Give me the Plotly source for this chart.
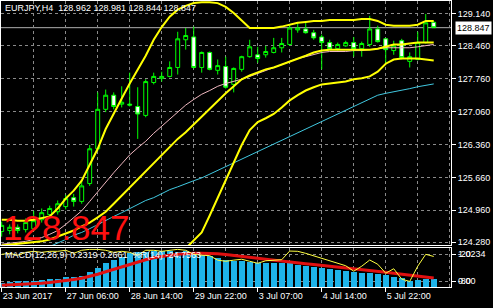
import plotly.graph_objects as go

W, H = 493, 308

# ---------------- data ----------------
bars = list(range(55))
opens = [124.51,124.53,124.60,124.55,124.57,124.76,124.87,124.93,125.04,125.23,
         125.15,125.53,126.27,127.11,127.41,127.22,127.22,127.17,126.98,127.68,
         127.77,127.81,128.00,128.59,128.65,128.00,128.32,127.94,128.02,127.64,
         127.96,128.23,128.27,128.27,128.32,128.42,128.49,128.80,128.82,128.74,
         128.65,128.53,128.40,128.46,128.53,128.40,128.49,128.82,128.61,128.36,
         128.57,128.13,128.17,128.53,128.962]
highs = [124.72,124.66,124.66,124.79,124.95,125.00,125.06,125.17,125.29,125.31,
         125.59,126.35,127.47,127.53,127.47,127.60,127.89,127.58,127.75,127.89,
         127.91,128.13,128.76,128.84,128.87,128.34,128.34,128.17,128.23,128.00,
         128.25,128.59,128.44,128.46,128.63,128.63,128.91,128.95,128.95,128.80,
         128.70,128.59,128.53,128.57,128.65,128.55,129.10,128.89,128.63,128.57,
         128.61,128.32,128.76,129.14,128.981]
lows = [124.40,124.45,124.47,124.49,124.51,124.70,124.81,124.87,124.98,125.04,
        125.10,125.48,126.22,127.05,127.11,127.15,127.17,126.48,126.94,127.64,
        127.70,127.79,127.85,128.38,127.98,127.89,127.94,127.85,127.55,127.47,
        127.91,128.21,128.10,128.21,128.30,128.32,128.46,128.74,128.72,128.59,
        127.96,128.38,128.36,128.44,128.23,128.23,128.44,128.53,128.06,128.27,
        128.17,128.00,128.15,128.51,128.844]
closes = [124.64,124.60,124.53,124.70,124.74,124.91,125.00,125.10,125.21,125.15,
          125.48,126.27,127.11,127.41,127.17,127.26,127.20,127.01,127.70,127.81,
          127.81,128.00,128.61,128.68,128.00,128.32,127.96,128.04,127.58,127.98,
          128.23,128.44,128.19,128.34,128.42,128.51,128.84,128.84,128.74,128.63,
          128.53,128.40,128.49,128.53,128.40,128.51,128.82,128.55,128.38,128.46,
          128.21,128.23,128.53,128.95,128.847]

bb_upper = [124.76,124.76,124.74,124.74,124.76,124.79,124.83,125.00,125.21,125.38,
            125.59,125.93,126.27,126.69,127.03,127.34,127.66,127.96,128.25,128.59,
            128.86,129.08,129.23,129.31,129.37,129.39,129.39,129.37,129.29,129.16,
            128.99,128.84,128.84,128.84,128.84,128.87,128.91,128.95,128.97,128.99,
            128.99,129.01,129.01,129.01,129.01,129.03,129.03,128.99,128.91,128.89,
            128.89,128.89,128.91,128.99,128.99]
bb_middle = [124.21,124.23,124.24,124.26,124.28,124.30,124.34,124.40,124.47,124.53,
             124.62,124.70,124.81,124.93,125.10,125.27,125.44,125.61,125.78,125.95,
             126.12,126.31,126.48,126.62,126.79,126.96,127.13,127.30,127.45,127.60,
             127.75,127.83,127.89,127.96,128.00,128.06,128.13,128.19,128.25,128.32,
             128.36,128.38,128.38,128.38,128.38,128.38,128.38,128.40,128.44,128.49,
             128.49,128.51,128.53,128.53,128.53]
bb_lower = [123.66,123.66,123.69,123.69,123.73,123.81,123.86,123.81,123.73,123.69,
            123.64,123.47,123.35,123.18,123.18,123.20,123.22,123.31,123.39,123.31,
            123.39,123.81,123.98,124.17,124.32,124.49,124.85,125.23,125.61,125.99,
            126.35,126.67,126.84,126.92,127.01,127.15,127.30,127.41,127.51,127.58,
            127.64,127.66,127.68,127.70,127.75,127.77,127.81,127.91,128.08,128.17,
            128.19,128.19,128.19,128.17,128.15]
ma_pink = [124.24,124.26,124.28,124.30,124.34,124.38,124.45,124.53,124.66,124.81,
           124.95,125.15,125.36,125.57,125.76,125.95,126.14,126.29,126.43,126.60,
           126.75,126.92,127.07,127.20,127.32,127.43,127.51,127.60,127.66,127.70,
           127.75,127.81,127.87,127.93,128.00,128.06,128.13,128.19,128.23,128.27,
           128.32,128.34,128.34,128.34,128.36,128.36,128.38,128.40,128.42,128.42,
           128.42,128.42,128.44,128.46,128.49]
ma_cyan = [123.90,123.94,123.98,124.02,124.09,124.13,124.19,124.26,124.34,124.43,
           124.49,124.57,124.66,124.74,124.83,124.91,125.00,125.08,125.17,125.23,
           125.31,125.40,125.46,125.53,125.59,125.65,125.73,125.81,125.89,125.97,
           126.05,126.13,126.21,126.29,126.37,126.45,126.53,126.61,126.69,126.77,
           126.85,126.93,127.01,127.09,127.17,127.25,127.33,127.41,127.45,127.48,
           127.52,127.55,127.59,127.62,127.65]

macd_hist = [0.116,0.145,0.165,0.165,0.183,0.212,0.241,0.241,0.281,0.310,
             0.339,0.435,0.551,0.696,0.792,0.890,0.986,1.035,1.035,1.053,
             1.053,1.053,1.035,1.053,1.015,0.943,0.899,0.841,0.792,0.763,
             0.763,0.745,0.696,0.696,0.696,0.696,0.696,0.647,0.629,0.600,
             0.571,0.531,0.502,0.484,0.435,0.406,0.406,0.377,0.357,0.310,
             0.261,0.183,0.212,0.232,0.2319]
macd_signal = [0.058,0.067,0.078,0.087,0.102,0.116,0.136,0.160,0.189,0.223,
               0.261,0.310,0.377,0.450,0.522,0.595,0.667,0.734,0.798,0.856,
               0.899,0.928,0.957,0.977,0.992,0.992,0.986,0.972,0.951,0.928,
               0.899,0.870,0.841,0.812,0.783,0.754,0.725,0.702,0.682,0.661,
               0.638,0.618,0.595,0.571,0.545,0.522,0.493,0.464,0.435,0.406,
               0.377,0.348,0.319,0.290,0.2661]
wpr = [-20.0,-17.8,-22.0,-15.6,-13.3,-15.6,-13.3,-13.3,-11.0,-17.8,
       -11.0,-8.9,-8.9,-11.0,-15.6,-13.3,-15.6,-22.0,-11.0,-11.0,
       -13.3,-11.0,-8.9,-11.0,-20.0,-22.0,-23.0,-33.0,-35.5,-33.0,
       -31.0,-35.5,-40.0,-34.4,-33.0,-32.0,-12.7,-13.3,-17.8,-23.3,
       -28.9,-34.4,-40.0,-45.5,-57.7,-46.6,-32.7,-42.2,-62.2,-52.2,
       -75.5,-80.6,-46.6,-20.0,-24.7563]

price_ticks = [129.140, 128.460, 127.760, 127.060, 126.360, 125.660, 124.960, 124.280]
time_tick_bars = [0, 8, 16, 24, 32, 40, 48]
time_tick_labels = ["23 Jun 2017", "27 Jun 06:00", "28 Jun 14:00", "29 Jun 22:00",
                    "3 Jul 07:00", "4 Jul 14:00", "5 Jul 22:00"]
wpr_levels = [-20, -80]
macd_scale_labels = ["1.0234", "0.00"]
symbol = "EURJPY,H4"

# ---------------- layout geometry (pixels) ----------------
def px_x(p):
    return p / W

def px_y(p):
    return 1 - p / H

X0, X1 = 1, 451
MAIN_T, MAIN_B = 1, 247
SUB_T, SUB_B = 250, 289

FONT = "Liberation Sans, Arial, sans-serif"
GRID = "#8a8a8a"
WHITE = "#ffffff"

fig = go.Figure()

# main window
fig.add_trace(go.Scatter(x=bars, y=ma_cyan, mode="lines", line=dict(color="#40c8e0", width=1),
                         xaxis="x", yaxis="y", hoverinfo="skip"))
fig.add_trace(go.Scatter(x=bars, y=ma_pink, mode="lines", line=dict(color="#f0b8c0", width=1),
                         xaxis="x", yaxis="y", hoverinfo="skip"))
for band in (bb_upper, bb_middle, bb_lower):
    fig.add_trace(go.Scatter(x=bars, y=band, mode="lines", line=dict(color="#ffff00", width=2),
                             xaxis="x", yaxis="y", hoverinfo="skip"))
fig.add_trace(go.Candlestick(
    x=bars, open=opens, high=highs, low=lows, close=closes,
    increasing=dict(line=dict(color="#00ff00", width=1), fillcolor="#000000"),
    decreasing=dict(line=dict(color="#00ff00", width=1), fillcolor="#ffffff"),
    whiskerwidth=0, xaxis="x", yaxis="y", hoverinfo="skip"))

# sub window
fig.add_trace(go.Bar(x=bars, y=macd_hist, marker=dict(color="#1eb4ea", line=dict(width=0)),
                     width=0.7, xaxis="x2", yaxis="y2", hoverinfo="skip"))
fig.add_trace(go.Scatter(x=bars, y=macd_signal, mode="lines", line=dict(color="#e01010", width=3),
                         xaxis="x2", yaxis="y2", hoverinfo="skip"))
fig.add_trace(go.Scatter(x=bars, y=wpr, mode="lines", line=dict(color="#ffff40", width=1),
                         xaxis="x2", yaxis="y3", hoverinfo="skip"))

xr = [-0.0875, 56.16]
axis_common = dict(showline=True, mirror=True, linecolor=WHITE, linewidth=1, zeroline=False)

fig.update_layout(
    width=W, height=H, margin=dict(l=0, r=0, t=0, b=0), autosize=False,
    paper_bgcolor="#000000", plot_bgcolor="#000000",
    showlegend=False, hovermode=False, bargap=0,
    font=dict(family=FONT, size=9, color=WHITE),
    xaxis=dict(domain=[px_x(X0), px_x(X1)], range=xr, anchor="y",
               tickmode="linear", tick0=0, dtick=4, showticklabels=False, ticks="",
               showgrid=True, gridcolor=GRID, griddash="3px,3px", gridwidth=1,
               rangeslider=dict(visible=False), **axis_common),
    yaxis=dict(domain=[px_y(MAIN_B), px_y(MAIN_T)], range=[124.214, 129.415], anchor="x",
               side="right", tickmode="array", tickvals=price_ticks,
               ticktext=[f"{v:.3f}" for v in price_ticks],
               ticks="outside", ticklen=4, tickcolor=WHITE,
               showgrid=True, gridcolor=GRID, griddash="3px,3px", gridwidth=1,
               tickfont=dict(family=FONT, size=9, color=WHITE), **axis_common),
    xaxis2=dict(domain=[px_x(X0), px_x(X1)], range=xr, anchor="y2",
                tickmode="array", tickvals=time_tick_bars, ticktext=time_tick_labels,
                ticks="outside", ticklen=4, tickcolor=WHITE,
                ticklabelposition="outside right",
                tickfont=dict(family=FONT, size=9, color=WHITE),
                showgrid=True, gridcolor=GRID, griddash="3px,3px",
                minor=dict(tickmode="linear", tick0=0, dtick=4, showgrid=True,
                           gridcolor=GRID, griddash="3px,3px", ticks=""),
                **axis_common),
    yaxis2=dict(domain=[px_y(SUB_B), px_y(SUB_T)], range=[0, 1.131], anchor="x2",
                showgrid=False, showticklabels=False, ticks="", **axis_common),
    yaxis3=dict(overlaying="y2", range=[-93.3, -6.7], anchor="x2", side="right",
                tickmode="array", tickvals=wpr_levels, ticktext=[str(v) for v in wpr_levels],
                ticks="outside", ticklen=4, tickcolor=WHITE,
                showgrid=True, gridcolor=GRID, griddash="3px,3px",
                tickfont=dict(family=FONT, size=9, color=WHITE),
                showline=False, zeroline=False),
)

last = closes[-1]
# current price line
fig.add_shape(type="line", xref="paper", x0=px_x(X0), x1=px_x(X1), yref="y", y0=last, y1=last,
              line=dict(color="#b0b0b0", width=1), layer="below")

# header text
fig.add_annotation(xref="paper", yref="paper", x=px_x(3), y=px_y(8), xanchor="left", yanchor="middle",
                   text=f"{symbol}  {opens[-1]:.3f} {highs[-1]:.3f} {lows[-1]:.3f} {closes[-1]:.3f}",
                   showarrow=False, font=dict(family=FONT, size=9, color=WHITE))
# big red price
fig.add_annotation(xref="paper", yref="paper", x=px_x(1), y=px_y(229), xanchor="left", yanchor="middle",
                   text=f"{last:.3f}", showarrow=False,
                   font=dict(family="Liberation Sans, Arial", size=35, color="#ff1010"))
# current price box on the axis
fig.add_annotation(xref="paper", yref="y", x=px_x(455), y=last, xanchor="left", yanchor="middle",
                   text=f"{last:.3f}", showarrow=False, bgcolor=WHITE, borderpad=1,
                   font=dict(family=FONT, size=9, color="#000000"))
# MACD legend text
fig.add_annotation(xref="paper", yref="paper", x=px_x(3), y=px_y(257), xanchor="left", yanchor="middle",
                   text=f"MACD(12,26,9) {macd_hist[-1]:.4f} {macd_signal[-1]:.4f}  %R(14) {wpr[-1]:.4f}",
                   showarrow=False, font=dict(family=FONT, size=9, color=WHITE))
# sub-window scale labels (drawn over the %R level labels, as in the reference)
for lbl, ypx in zip(macd_scale_labels, (256, 283)):
    fig.add_annotation(xref="paper", yref="paper", x=px_x(456), y=px_y(ypx), xanchor="left",
                       yanchor="middle", text=lbl, showarrow=False,
                       font=dict(family=FONT, size=9, color=WHITE))

fig.write_html("out.html", config=dict(displayModeBar=False, staticPlot=True))
